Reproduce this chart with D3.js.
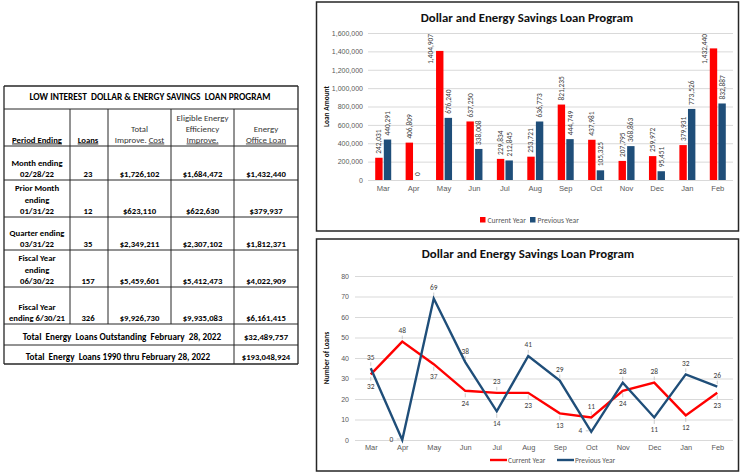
<!DOCTYPE html>
<html>
<head>
<meta charset="utf-8">
<script src="https://cdn.jsdelivr.net/npm/d3@7"></script>
<style>
html,body{margin:0;padding:0;background:#fff;}
svg{display:block;font-family:Carlito,Calibri,Lato,"Open Sans",sans-serif;}
svg text{white-space:pre;}
</style>
</head>
<body>
<svg id="c" width="741" height="472"></svg>
<script>
// ---------- DATA ----------
const months = ["Mar","Apr","May","Jun","Jul","Aug","Sep","Oct","Nov","Dec","Jan","Feb"];
const amountCurrent = [242031,406809,1404907,637250,229834,253721,821235,437981,207795,259972,379931,1432440];
const amountPrevious = [440291,0,676240,338008,212845,636773,444749,105325,368863,95451,773526,832887];
const amountTicks = [0,200000,400000,600000,800000,1000000,1200000,1400000,1600000];

const loansCurrent = [32,48,37,24,23,23,13,11,24,28,12,23];
const loansPrevious = [35,0,69,38,14,41,29,4,28,11,32,26];
const loanTicks = [0,10,20,30,40,50,60,70,80];
const labelSideCurrent = ["below","above","below","below","above","below","below","above","below","above","below","below"];
const labelSidePrevious = ["above","left","above","above","below","above","above","left","above","below","above","above"];

const seriesNames = ["Current Year","Previous Year"];
const chartTitle = "Dollar and Energy Savings Loan Program";

const tableTitle = "LOW INTEREST  DOLLAR & ENERGY SAVINGS  LOAN PROGRAM";
const periodLabels = [["Month ending","02/28/22"],["Prior Month","ending","01/31/22"],["Quarter ending","03/31/22"],["Fiscal Year","ending","06/30/22"],["Fiscal Year","ending 6/30/21"]];
const loanCounts = ["23","12","35","157","326"];
const totalCost = ["$1,726,102","$623,110","$2,349,211","$5,459,601","$9,926,730"];
const eligibleImprove = ["$1,684,472","$622,630","$2,307,102","$5,412,473","$9,935,083"];
const officeLoan = ["$1,432,440","$379,937","$1,812,371","$4,022,909","$6,161,415"];
const summaryLabels = ["Total  Energy  Loans Outstanding  February  28, 2022","Total  Energy  Loans 1990 thru February 28, 2022"];
const summaryValues = ["$32,489,757","$193,048,924"];

// ---------- STYLE ----------
const RED = "#ff0000", BLUE = "#1f4e79", GRID = "#d9d9d9", AXIS_TXT = "#595959", LBL_TXT = "#404040";
const svg = d3.select("#c");
const fmt = d3.format(",");

// ---------- TABLE ----------
(function(){
  const g = svg.append("g");
  const colX = [4,70,108,171,234,298];
  const rowY = [86,109,146,180,217,250,287,324,345,364];
  const lc = "#262626";
  const txt = (x,y,s,opt={}) => {
    const t = g.append("text").attr("x",x).attr("y",y).attr("text-anchor","middle")
      .attr("font-size",opt.size||8.7).attr("font-weight",opt.weight||"bold").attr("fill",opt.fill||"#000").text(s);
    if(opt.ul) t.attr("text-decoration","underline");
    return t;
  };
  rowY.forEach((y,i)=>{
    g.append("line").attr("x1",colX[0]).attr("x2",colX[5]).attr("y1",y).attr("y2",y)
      .attr("stroke",lc).attr("stroke-width",(i===0||i===rowY.length-1)?1.3:1);
  });
  [colX[0],colX[5]].forEach(x=>{
    g.append("line").attr("x1",x).attr("x2",x).attr("y1",rowY[0]).attr("y2",rowY[9]).attr("stroke",lc).attr("stroke-width",1.3);
  });
  [1,2,3].forEach(i=>{
    g.append("line").attr("x1",colX[i]).attr("x2",colX[i]).attr("y1",rowY[1]).attr("y2",rowY[7]).attr("stroke",lc).attr("stroke-width",1);
  });
  g.append("line").attr("x1",colX[4]).attr("x2",colX[4]).attr("y1",rowY[1]).attr("y2",rowY[9]).attr("stroke",lc).attr("stroke-width",1);

  const cx = i => (colX[i]+colX[i+1])/2;
  txt(150,99.5,tableTitle,{size:9.4});
  const hb = rowY[2]-3.5, lh = 11;
  txt(cx(0),hb,"Period Ending",{ul:true});
  txt(cx(1)-1,hb,"Loans",{ul:true});
  txt(cx(2),hb-lh,"Total",{weight:"normal",fill:"#333"});
  const t2 = g.append("text").attr("x",cx(2)).attr("y",hb).attr("text-anchor","middle").attr("font-size",8.8).attr("fill","#333");
  t2.append("tspan").text("Improve. ");
  t2.append("tspan").attr("text-decoration","underline").text("Cost");
  txt(cx(3),hb-2*lh,"Eligible Energy",{weight:"normal",fill:"#333",size:8.8});
  txt(cx(3),hb-lh,"Efficiency",{weight:"normal",fill:"#333",size:8.8});
  txt(cx(3),hb,"Improve.",{weight:"normal",fill:"#333",ul:true,size:8.8});
  txt(cx(4),hb-lh,"Energy",{weight:"normal",fill:"#333",size:8.8});
  txt(cx(4),hb,"Office Loan",{weight:"normal",fill:"#333",ul:true,size:8.8});
  periodLabels.forEach((lines,r)=>{
    const base = rowY[r+3]-3;
    lines.forEach((s,k)=>txt(cx(0),base-(lines.length-1-k)*11.4,s));
    txt(cx(1)-1,base,loanCounts[r]);
    txt(cx(2),base,totalCost[r]);
    txt(cx(3),base,eligibleImprove[r]);
    txt(cx(4),base,officeLoan[r]);
  });
  summaryLabels.forEach((s,k)=>{
    const base = k===0 ? rowY[8]-5 : rowY[9]-4;
    txt(k===0?122:118,base,s,{size:9.2});
    txt(cx(4),base,summaryValues[k]);
  });
})();

// ---------- CHART FRAMES ----------
function frame(x,y,w,h){
  svg.append("rect").attr("x",x).attr("y",y).attr("width",w).attr("height",h)
    .attr("fill","#fff").attr("stroke","#262626").attr("stroke-width",1.5);
}
frame(316.5,2,422,229);
frame(316.5,239,422,232);

// ---------- BAR CHART ----------
(function(){
  const g = svg.append("g");
  const left=368, right=733, top=33, bottom=180;
  const x = d3.scaleBand().domain(months).range([left,right]).paddingInner(0).paddingOuter(0);
  const y = d3.scaleLinear().domain([0,1600000]).range([bottom,top]);
  const x1 = d3.scaleBand().domain(seriesNames).range([-8,8]).paddingInner(0.14);

  g.append("text").attr("x",527).attr("y",22).attr("text-anchor","middle")
    .attr("font-size",12.8).attr("font-weight","bold").attr("fill","#111").text(chartTitle);

  const yAxis = d3.axisLeft(y).tickValues(amountTicks).tickFormat(fmt).tickSize(-(right-left)).tickPadding(5);
  const ya = g.append("g").attr("transform",`translate(${left},0)`).call(yAxis);
  ya.select(".domain").remove();
  ya.selectAll(".tick line").attr("stroke",GRID).attr("stroke-width",1);
  ya.selectAll(".tick text").attr("fill",AXIS_TXT).attr("font-size",7).attr("font-family",null);

  const xAxis = d3.axisBottom(x).tickSize(0).tickPadding(6);
  const xa = g.append("g").attr("transform",`translate(0,${bottom})`).call(xAxis);
  xa.select(".domain").remove();
  xa.selectAll(".tick text").attr("fill",AXIS_TXT).attr("font-size",7.6).attr("font-family",null);

  g.append("text").attr("transform",`translate(329,${(top+bottom)/2}) rotate(-90)`).attr("text-anchor","middle")
    .attr("font-size",7.4).attr("font-weight","bold").attr("fill","#111").text("Loan Amount");

  const series = [amountCurrent, amountPrevious];
  const colors = [RED, BLUE];
  series.forEach((vals,si)=>{
    const name = seriesNames[si];
    g.selectAll(null).data(vals).enter().append("rect")
      .attr("x",(d,i)=>x(months[i])+x.bandwidth()/2+x1(name))
      .attr("width",x1.bandwidth())
      .attr("y",d=>y(d)).attr("height",d=>bottom-y(d)).attr("fill",colors[si]);
  });
  series.forEach((vals,si)=>{
    const name = seriesNames[si];
    vals.forEach((d,i)=>{
      const bx = x(months[i])+x.bandwidth()/2+x1(name);
      const bcx = bx + x1.bandwidth()/2;
      const t = g.append("text").attr("font-size",7.4).attr("fill",LBL_TXT)
        .attr("dominant-baseline","central").attr("text-anchor","start").text(fmt(d));
      const len = t.node().getComputedTextLength();
      let by = y(d)-4, lx = bcx;
      if(by-len < top+1){ by = top+1+len; lx = bx-5.5; }
      t.attr("transform",`translate(${lx},${by}) rotate(-90)`);
    });
  });

  const lg = g.append("g").attr("transform","translate(0,220)");
  const lx = [480,530];
  seriesNames.forEach((n,i)=>{
    lg.append("rect").attr("x",lx[i]).attr("y",-3).attr("width",5.5).attr("height",5.5).attr("fill",colors[i]);
    lg.append("text").attr("x",lx[i]+7.5).attr("y",0).attr("dominant-baseline","central")
      .attr("font-size",7.6).attr("fill",AXIS_TXT).text(n);
  });
})();

// ---------- LINE CHART ----------
(function(){
  const g = svg.append("g");
  const left=355, right=733, top=276, bottom=440;
  const x = d3.scalePoint().domain(months).range([left,right]).padding(0.5);
  const y = d3.scaleLinear().domain([0,80]).range([bottom,top]);

  g.append("text").attr("x",528).attr("y",258).attr("text-anchor","middle")
    .attr("font-size",12.8).attr("font-weight","bold").attr("fill","#111").text(chartTitle);

  const yAxis = d3.axisLeft(y).tickValues(loanTicks).tickSize(-(right-left)).tickPadding(6);
  const ya = g.append("g").attr("transform",`translate(${left},0)`).call(yAxis);
  ya.select(".domain").remove();
  ya.selectAll(".tick line").attr("stroke",GRID).attr("stroke-width",1);
  ya.selectAll(".tick text").attr("fill",AXIS_TXT).attr("font-size",7).attr("font-family",null);

  const xAxis = d3.axisBottom(x).tickSize(0).tickPadding(5);
  const xa = g.append("g").attr("transform",`translate(0,${bottom})`).call(xAxis);
  xa.select(".domain").remove();
  xa.selectAll(".tick text").attr("fill",AXIS_TXT).attr("font-size",7.4).attr("font-family",null);

  g.append("text").attr("transform",`translate(329,${(top+bottom)/2}) rotate(-90)`).attr("text-anchor","middle")
    .attr("font-size",7.4).attr("font-weight","bold").attr("fill","#111").text("Number of Loans");

  const line = d3.line().x((d,i)=>x(months[i])).y(d=>y(d));
  const series = [loansCurrent, loansPrevious];
  const sides = [labelSideCurrent, labelSidePrevious];
  const colors = [RED, BLUE];
  series.forEach((vals,si)=>{
    g.append("path").datum(vals).attr("d",line).attr("fill","none")
      .attr("stroke",colors[si]).attr("stroke-width",2.4).attr("stroke-linejoin","miter");
  });
  series.forEach((vals,si)=>{
    vals.forEach((d,i)=>{
      const px = x(months[i]), py = y(d), side = sides[si][i];
      let lx=px, ly=py, l1, l2;
      if(side==="above"){ ly = py-11; l1=[px,py-2.5]; l2=[px,py-6]; }
      else if(side==="below"){ ly = py+12.5; l1=[px,py+2.5]; l2=[px,py+6.5]; }
      else { lx = px-9; ly = py-1; l1=[px-2.5,py-1]; l2=[px-5.5,py-1]; }
      g.append("line").attr("x1",l1[0]).attr("y1",l1[1]).attr("x2",l2[0]).attr("y2",l2[1])
        .attr("stroke","#bfbfbf").attr("stroke-width",0.8);
      g.append("text").attr("x",lx).attr("y",ly).attr("text-anchor",side==="left"?"end":"middle")
        .attr("dominant-baseline","central").attr("font-size",7.4).attr("fill",LBL_TXT).text(d);
    });
  });

  const lg = g.append("g").attr("transform","translate(0,460)");
  const lx = [490,557];
  seriesNames.forEach((n,i)=>{
    lg.append("line").attr("x1",lx[i]).attr("x2",lx[i]+17).attr("y1",0).attr("y2",0)
      .attr("stroke",colors[i]).attr("stroke-width",2.4);
    lg.append("text").attr("x",lx[i]+18).attr("y",0).attr("dominant-baseline","central")
      .attr("font-size",7.4).attr("fill",AXIS_TXT).text(n);
  });
})();
</script>
</body>
</html>
